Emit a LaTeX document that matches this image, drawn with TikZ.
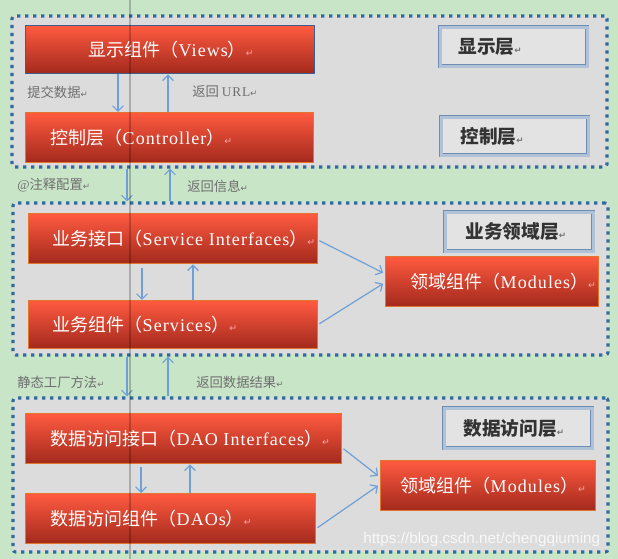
\documentclass[tikz,border=0pt]{standalone}
\usepackage{fontspec}
\setmainfont{Liberation Serif}[LetterSpace=6]
\newfontfamily\cjk{Noto Sans CJK SC}
\newfontfamily\dvs{DejaVu Sans}
\newfontfamily\wmfont{Liberation Sans}
\usetikzlibrary{arrows.meta,calc,fit}
\definecolor{bgGreen}{HTML}{C9E5C8}
\definecolor{layerFill}{HTML}{DCDCDC}
\definecolor{dotBlue}{HTML}{2F6A9E}
\definecolor{rbTop}{HTML}{FF5A40}
\definecolor{rbMid}{HTML}{EE432C}
\definecolor{rbBot}{HTML}{A2291C}
\definecolor{rbBorder}{HTML}{E2742C}
\definecolor{viewBorder}{HTML}{3D5E8E}
\definecolor{arrBlue}{HTML}{6E9FD6}
\definecolor{lblGray}{HTML}{6E6E6E}
\definecolor{lbFill}{HTML}{E3E3E3}
\definecolor{lbDraw}{HTML}{6F8DB2}
\definecolor{lbDouble}{HTML}{AFC2D8}
\definecolor{lbText}{HTML}{333333}
\newcommand\bxt[3]{\makebox[\dimexpr0.75pt*#1\relax][l]{\hspace*{\dimexpr0.75pt*#2\relax}#3}}
\newcommand\rtw{{\dvs\color{white!65!red}\fontsize{7}{8}\selectfont ↵}}
\newcommand\rtg{{\dvs\color{lblGray}\fontsize{6.5}{8}\selectfont ↵}}
\tikzset{
  layer/.style={draw=dotBlue, fill=layerFill, line width=2.3pt,
    dash pattern=on 2.4pt off 3.6pt, rounded corners=2pt, inner sep=0pt},
  redbox/.style={draw=rbBorder, line width=1.1pt, top color=rbTop,
    middle color=rbMid, bottom color=rbBot, text=white, inner xsep=0pt,
    inner ysep=0pt, anchor=north west,
    font=\fontsize{13.5}{16}\selectfont},
  lbox/.style={draw=lbDraw, line width=0.7pt, double=lbDouble,
    double distance=1.6pt, fill=lbFill, text=lbText, inner xsep=0pt,
    inner ysep=0pt, anchor=north west,
    font=\cjk\bfseries\fontsize{14}{16}\selectfont},
  lbl/.style={text=lblGray, anchor=west, inner sep=0pt,
    font=\fontsize{10}{12}\selectfont},
  arr/.style={draw=arrBlue, line width=0.9pt,
    -{Straight Barb[length=4pt,width=8pt]}},
}
\begin{document}
\begin{tikzpicture}[x=0.75pt,y=-0.75pt]
\useasboundingbox (0,0) rectangle (618,559);
\fill[bgGreen] (0,0) rectangle (618,559);

% layers
\node[layer, fit={(12,16) (607,167)}] (L1) {};
\node[layer, fit={(13,203) (608,355)}] (L2) {};
\node[layer, fit={(13,398) (608,552)}] (L3) {};

% layer 1
\node[redbox, draw=viewBorder, minimum height=48*0.75pt] (views) at (25,25)
  {\bxt{289}{63}{{\cjk 显示组件（}Views{\cjk ）}\rtw}};
\node[redbox, minimum height=50*0.75pt] (ctrl) at (25,112)
  {\bxt{288}{25}{{\cjk 控制层（}Controller{\cjk ）}\rtw}};
\node[lbox, minimum height=39*0.75pt] (lb1) at (440,27)
  {\bxt{147}{18}{显示层\rtg}};
\node[lbox, minimum height=38*0.75pt] (lb2) at (441,117)
  {\bxt{147}{19}{控制层\rtg}};

\draw[arr] (views.south -| 118,0) -- (ctrl.north -| 118,0);
\draw[arr] (ctrl.north -| 168,0) -- (views.south -| 168,0);
\node[lbl] (t1) at (27,92) {{\cjk 提交数据}\rtg};
\node[lbl] (t2) at (192,92) {{\cjk 返回 }URL\rtg};

% between 1 and 2
\draw[arr] (L1.south -| 127,0) -- (L2.north -| 127,0);
\draw[arr] (L2.north -| 170,0) -- (L1.south -| 170,0);
\node[lbl] (t3) at (17,185) {@{\cjk 注释配置}\rtg};
\node[lbl] (t4) at (187,186) {{\cjk 返回信息}\rtg};

% layer 2
\node[redbox, minimum height=50*0.75pt] (si) at (28,213)
  {\bxt{289}{24}{{\cjk 业务接口（}Service Interfaces{\cjk ）}\rtw}};
\node[redbox, minimum height=48*0.75pt] (svc) at (28,300)
  {\bxt{289}{24}{{\cjk 业务组件（}Services{\cjk ）}\rtw}};
\node[lbox, minimum height=39*0.75pt] (lb3) at (445,212)
  {\bxt{148}{20}{业务领域层\rtg}};
\node[redbox, minimum height=50*0.75pt] (mod1) at (385,256)
  {\bxt{213}{25}{{\cjk 领域组件（}Modules{\cjk ）}\rtw}};

\draw[arr, shorten <=3pt] (si.south -| 142,0) -- (svc.north -| 142,0);
\draw[arr] (svc.north -| 193,0) -- (si.south -| 193,0);
\draw[arr] ($(si.east)+(1,2)$) -- ($(mod1.west)+(-2,-9)$);
\draw[arr] ($(svc.east)+(1,-1)$) -- ($(mod1.west)+(-2,2)$);

% between 2 and 3
\draw[arr] (L2.south -| 127,0) -- (L3.north -| 127,0);
\draw[arr] (L3.north -| 168,0) -- (L2.south -| 168,0);
\node[lbl] (t5) at (17,382) {{\cjk 静态工厂方法}\rtg};
\node[lbl] (t6) at (196,382) {{\cjk 返回数据结果}\rtg};

% layer 3
\node[redbox, minimum height=50*0.75pt] (daoi) at (25,413)
  {\bxt{316}{25}{{\cjk 数据访问接口（}DAO Interfaces{\cjk ）}\rtw}};
\node[redbox, minimum height=50*0.75pt] (daos) at (25,493)
  {\bxt{290}{25}{{\cjk 数据访问组件（}DAOs{\cjk ）}\rtw}};
\node[lbox, minimum height=40*0.75pt] (lb4) at (444,408)
  {\bxt{148}{19}{数据访问层\rtg}};
\node[redbox, minimum height=50*0.75pt] (mod2) at (380,460)
  {\bxt{215}{20}{{\cjk 领域组件（}Modules{\cjk ）}\rtw}};

\draw[arr, shorten <=2pt] (daoi.south -| 141,0) -- (daos.north -| 141,0);
\draw[arr] (daos.north -| 190,0) -- (daoi.south -| 190,0);
\draw[arr] ($(daoi.east)+(1,10)$) -- ($(mod2.west)+(-2,-10)$);
\draw[arr] ($(daos.east)+(1,9)$) -- ($(mod2.west)+(-2,0)$);

% watermark
\node[anchor=west, inner sep=0pt, text=white, opacity=0.8,
  font=\wmfont\fontsize{11.5}{13}\selectfont] (wm) at (363,540)
  {https://blog.csdn.net/chengqiuming};

% screen artefact line
\draw[black, opacity=0.22, line width=0.8pt] (130,0) -- (130,559);
\end{tikzpicture}
\end{document}
